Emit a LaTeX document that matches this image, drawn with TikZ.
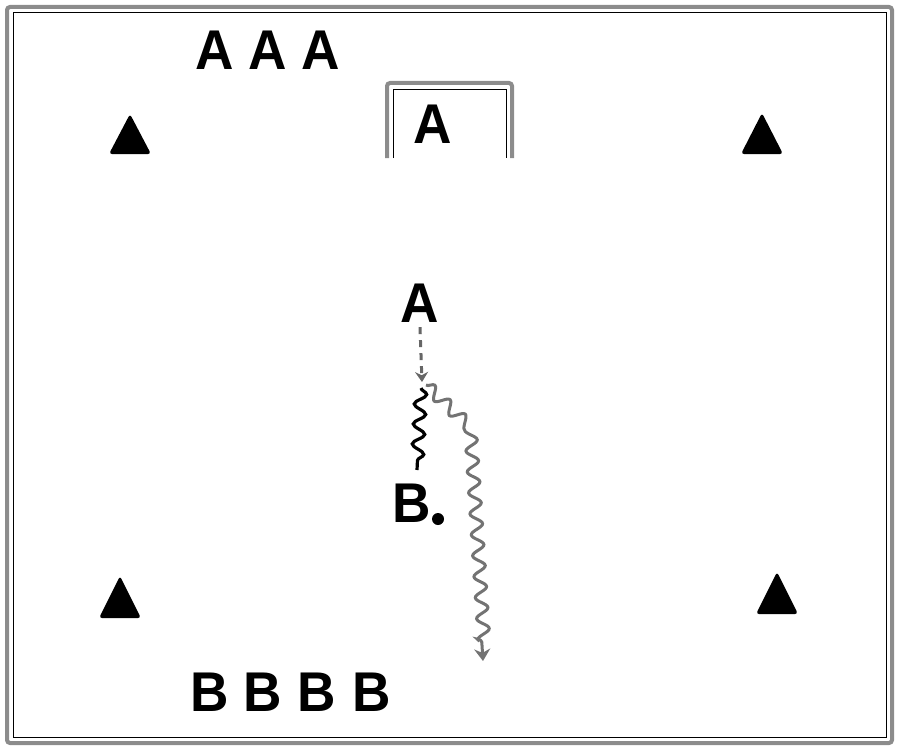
\documentclass[tikz,border=0pt]{standalone}
\usepackage{fontspec}
\usepackage{graphicx}
\setmainfont{Liberation Sans}
\usetikzlibrary{arrows.meta,decorations.pathmorphing}
\newcommand{\narrow}[1]{\scalebox{0.95}[1]{#1}}
\tikzset{
  lab/.style={font=\fontsize{56}{56}\selectfont\bfseries, inner sep=0pt, anchor=base},
  cone/.style={fill=black, rounded corners=3pt},
  wavy/.style={decorate, decoration={snake, segment length=20pt, amplitude=6pt}},
}
\begin{document}
\begin{tikzpicture}[x=1pt,y=-1pt]
\useasboundingbox (0,0) rectangle (900,752);
% field border
\draw[black!45, line width=4pt, rounded corners=3pt] (7,7) rectangle (892,743);
\draw[black, line width=1pt] (13,13) rectangle (886,737);
% goal
\draw[black!45, line width=4pt, rounded corners=3pt] (387,158) -- (387,83) -- (512,83) -- (512,158);
\draw[black, line width=0.8pt] (393,158) -- (393,89) -- (506,89) -- (506,158);
% cones
\fill[cone] (130,114) -- (151,154) -- (109,154) -- cycle;
\fill[cone] (762,113) -- (783,154) -- (741,154) -- cycle;
\fill[cone] (120,576) -- (141,618) -- (99,618) -- cycle;
\fill[cone] (777,572) -- (798,614) -- (756,614) -- cycle;
% labels
\node[lab] (a1) at (215,70) {\narrow{A}};
\node[lab] (a2) at (268,70) {\narrow{A}};
\node[lab] (a3) at (321,70) {\narrow{A}};
\node[lab] (ag) at (433,143) {\narrow{A}};
\node[lab] (am) at (420,322) {\narrow{A}};
\node[lab] (bb) at (412,522) {\narrow{B}};
\node[circle, fill=black, inner sep=0pt, minimum size=12pt] (ball) at (438,519) {};
\node[lab] (b1) at (210,711) {\narrow{B}};
\node[lab] (b2) at (263,711) {\narrow{B}};
\node[lab] (b3) at (317,711) {\narrow{B}};
\node[lab] (b4) at (372,711) {\narrow{B}};
% connectors
\coordinate (k) at (422,382);
\coordinate (w1s) at (421,388);
\coordinate (w1e) at (417,470);
\coordinate (w2s) at (426,385);
\coordinate (w2c) at (468,425);
\coordinate (w2e) at (483,661);
\draw[black!60, line width=3pt, dash pattern=on 7pt off 6pt, -{Stealth[length=10pt,width=13pt]}] ([yshift=-5pt]am.south) -- (k);
\draw[black, line width=3.2pt, wavy] (w1s) -- (w1e);
\draw[black!55, line width=3pt, decorate, decoration={snake, segment length=21pt, amplitude=6pt, post length=10pt}, -{Stealth[length=12pt,width=16pt]}] (w2s) -- (w2c) -- (w2e);
\end{tikzpicture}
\end{document}
